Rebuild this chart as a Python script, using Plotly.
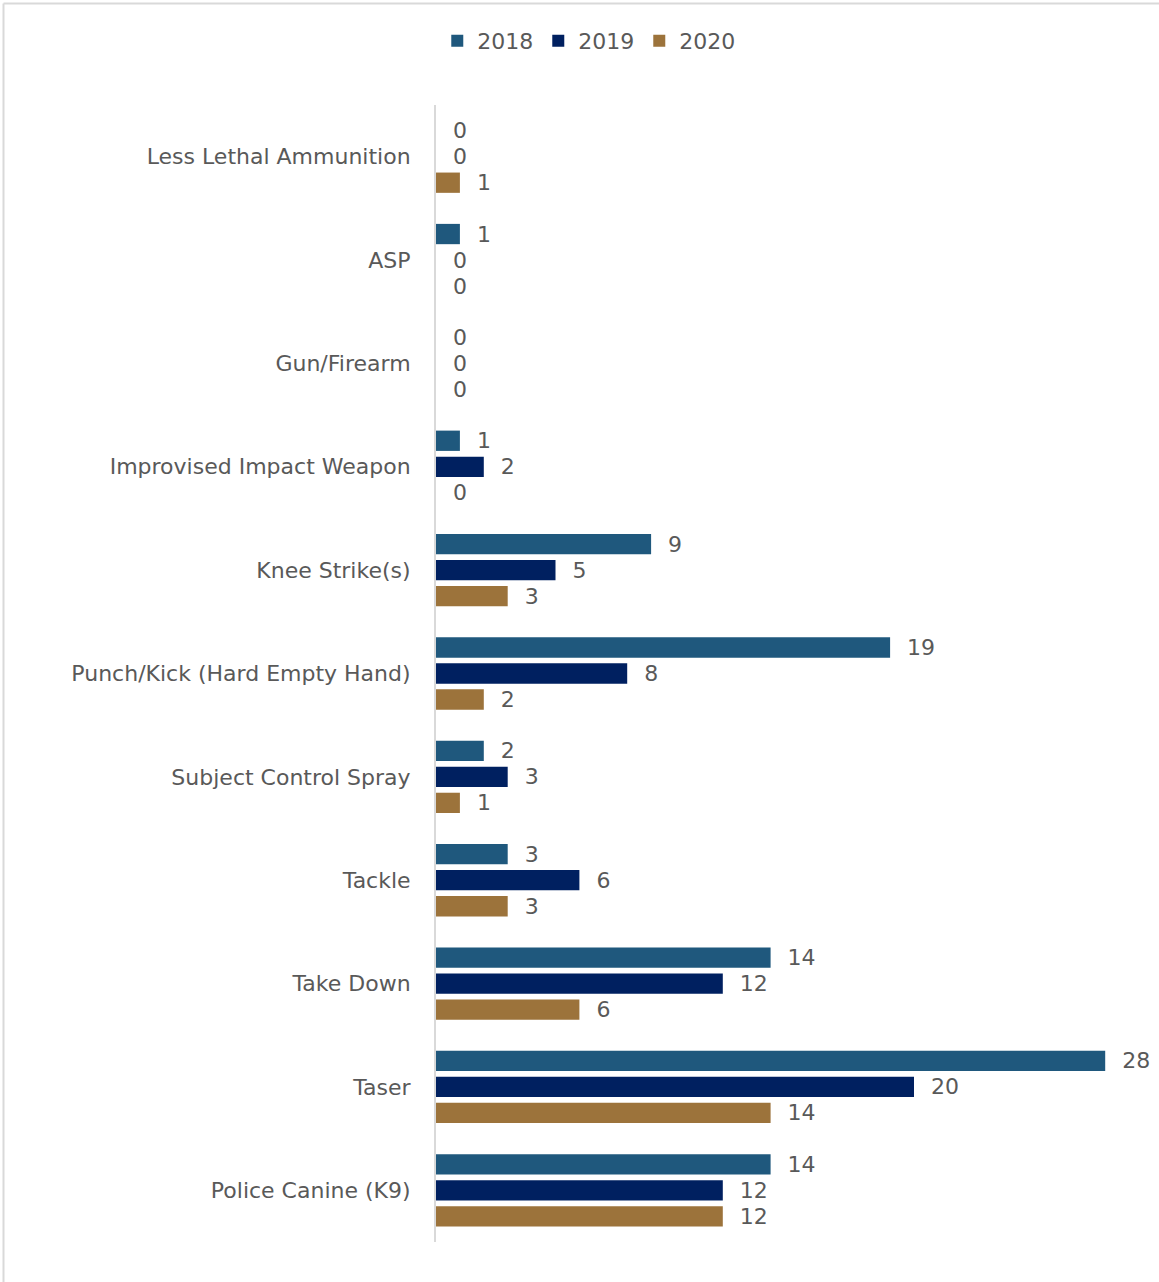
import plotly.graph_objects as go

# Use-of-force types, top to bottom
categories = [
    "Less Lethal Ammunition",
    "ASP",
    "Gun/Firearm",
    "Improvised Impact Weapon",
    "Knee Strike(s)",
    "Punch/Kick (Hard Empty Hand)",
    "Subject Control Spray",
    "Tackle",
    "Take Down",
    "Taser",
    "Police Canine (K9)",
]
years = ["2018", "2019", "2020"]
values_2018 = [0, 1, 0, 1, 9, 19, 2, 3, 14, 28, 14]
values_2019 = [0, 0, 0, 2, 5, 8, 3, 6, 12, 20, 12]
values_2020 = [1, 0, 0, 0, 3, 2, 1, 3, 6, 14, 12]
series = [values_2018, values_2019, values_2020]
colors = ["#1F587D", "#002060", "#9C733B"]

W, H = 1159, 1282
ML, MR, MT, MB = 436, 6, 105, 40
FONT = "DejaVu Sans"
FS = 22
GRAY = "#595959"

fig = go.Figure()
for year, vals, col in zip(years, series, colors):
    fig.add_trace(go.Bar(
        y=categories,
        x=vals,
        name=year,
        orientation="h",
        marker=dict(color=col, line=dict(width=0)),
        text=["\u00a0\u00a0" + str(v) for v in vals],
        textposition="outside",
        textfont=dict(family=FONT, size=FS, color=GRAY),
        constraintext="none",
        cliponaxis=False,
        hoverinfo="skip",
    ))

# thin frame along the top and left edges of the figure
pw = W - ML - MR
ph = H - MT - MB
x0 = (3.5 - ML) / pw
y0 = 1 + (MT - 3.5) / ph
fig.add_shape(type="line", xref="paper", yref="paper",
              x0=x0, x1=(W + 10 - ML) / pw, y0=y0, y1=y0,
              line=dict(color="#D9D9D9", width=2))
fig.add_shape(type="line", xref="paper", yref="paper",
              x0=x0, x1=x0, y0=y0, y1=-(MB + 10) / ph,
              line=dict(color="#D9D9D9", width=2))

fig.update_layout(
    width=W, height=H,
    margin=dict(l=ML, r=MR, t=MT, b=MB, pad=0),
    paper_bgcolor="white",
    plot_bgcolor="white",
    barmode="group",
    bargap=0.245,
    bargroupgap=0.22,
    font=dict(family=FONT, size=FS, color=GRAY),
    showlegend=True,
    legend=dict(
        orientation="h",
        xref="container", yref="container",
        x=0.508, xanchor="center",
        y=1 - 41 / H, yanchor="middle",
        font=dict(family=FONT, size=FS, color=GRAY),
        itemwidth=30,
        traceorder="normal",
    ),
    xaxis=dict(
        range=[0, 30],
        visible=False,
        showgrid=False,
        zeroline=False,
    ),
    yaxis=dict(
        autorange="reversed",
        showgrid=False,
        zeroline=False,
        showline=True,
        linecolor="#D9D9D9",
        linewidth=2,
        ticks="",
        ticklabelstandoff=19,
        tickfont=dict(family=FONT, size=FS, color=GRAY),
    ),
)

fig.write_html("out.html")
